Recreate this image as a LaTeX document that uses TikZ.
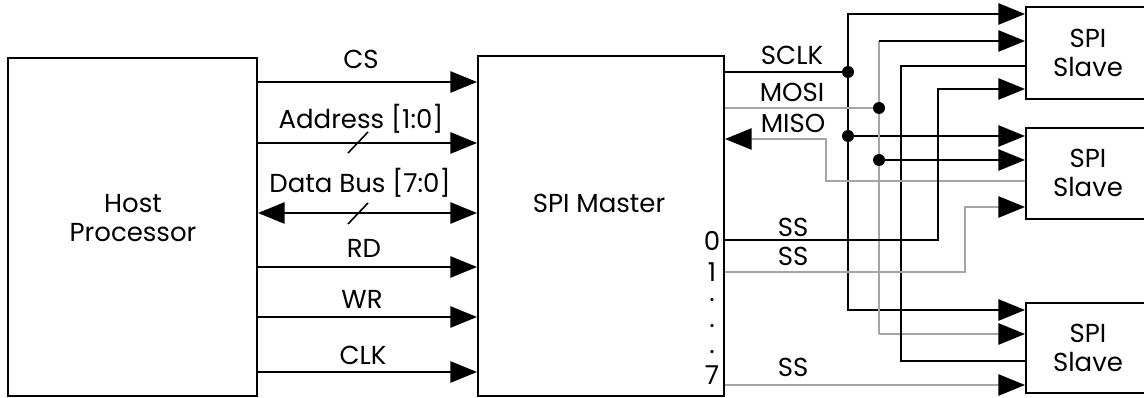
\documentclass[tikz,border=0pt]{standalone}
\usepackage{fontspec}
\setmainfont{Poppins}
\usetikzlibrary{arrows.meta,fit}
\definecolor{wiregray}{RGB}{165,165,165}
\tikzset{
  blk/.style={draw=black, line width=1.5pt, inner sep=0pt},
  wire/.style={draw=black, line width=1.2pt},
  gwire/.style={draw=wiregray, line width=1.2pt},
  arr/.style={-{Triangle[length=20pt,width=16pt,color=black]}},
  arrs/.style={{Triangle[length=20pt,width=16pt,color=black]}-{Triangle[length=20pt,width=16pt,color=black]}},
  jdot/.style={circle, fill=black, inner sep=0pt, minimum size=9pt},
  lbl/.style={font=\fontsize{19.5}{22}\selectfont, inner sep=0.75pt, text=black},
  port/.style={lbl, inner sep=0pt},
}
\begin{document}
\begin{tikzpicture}[x=0.75pt,y=0.75pt,yscale=-1,xscale=1]
    \useasboundingbox (0,0) rectangle (1144,398);

    %Shape: Rectangle [host] 
    \node [blk, fit={(8,58) (257,396)}] (host) {};
    %Shape: Rectangle [master] 
    \node [blk, fit={(478,56) (724,396)}] (master) {};
    %Shape: Rectangle [slaves] 
    \node [blk, fit={(1026,7) (1150,99)}] (s1) {};
    \node [blk, fit={(1026,128) (1150,219)}] (s2) {};
    \node [blk, fit={(1026,303) (1150,393)}] (s3) {};

    % Text Node
    \node [lbl, align=center] (thost) at (133,218) {Host\\Processor};
    % Text Node
    \node [lbl] (tmaster) at (599,203) {SPI Master};
    % Text Node
    \node [lbl, align=center] (ts1) at (1088,53) {SPI\\Slave};
    \node [lbl, align=center] (ts2) at (1088,173) {SPI\\Slave};
    \node [lbl, align=center] (ts3) at (1088,348) {SPI\\Slave};

    %Straight Lines [host to master] 
    \draw [wire,arr] (host.east |- 0,82) -- (master.west |- 0,82) ;
    \draw [wire,arr] (host.east |- 0,143) -- (master.west |- 0,143) ;
    \draw [wire,arrs] (host.east |- 0,213) -- (master.west |- 0,213) ;
    \draw [wire,arr] (host.east |- 0,267) -- (master.west |- 0,267) ;
    \draw [wire,arr] (host.east |- 0,317) -- (master.west |- 0,317) ;
    \draw [wire,arr] (host.east |- 0,372) -- (master.west |- 0,372) ;
    %Straight Lines [bus slashes] 
    \draw [wire] (348,153) -- (368,132) ;
    \draw [wire] (348,224) -- (368,203) ;

    % Text Node
    \node [lbl] (tcs) at (361,59) {CS};
    \node [lbl] (taddr) at (361,119) {Address [1:0]};
    \node [lbl] (tdata) at (360,183) {Data Bus [7:0]};
    \node [lbl] (trd) at (364,248) {RD};
    \node [lbl] (twr) at (362,299) {WR};
    \node [lbl] (tclk) at (363,355) {CLK};

    %Straight Lines [SCLK] 
    \draw [wire] (master.east |- 0,72) -- (848,72) ;
    \draw [wire,arr] (848,72) |- (s1.west |- 0,14) ;
    \draw [wire,arr] (848,72) |- (s3.west |- 0,310) ;
    \draw [wire,arr] (848,136) -- (s2.west |- 0,136) ;
    %Straight Lines [MOSI] 
    \draw [gwire] (master.east |- 0,108) -- (879,108) ;
    \draw [gwire] (879,41) -- (879,334) ;
    \draw [wire,arr] (879,41) -- (s1.west |- 0,41) ;
    \draw [wire,arr] (879,160) -- (s2.west |- 0,160) ;
    \draw [gwire,arr] (879,334) -- (s3.west |- 0,334) ;
    %Straight Lines [MISO] 
    \draw [wire] (s1.west |- 0,66) -| (901,361) -- (s3.west |- 0,361) ;
    \draw [gwire,arr] (s2.west |- 0,181) -- (826,181) -- (826,139) -- (master.east |- 0,139) ;
    %Straight Lines [SS] 
    \draw [wire,arr] (master.east |- 0,240) -- (938,240) -- (938,89) -- (s1.west |- 0,89) ;
    \draw [gwire,arr] (master.east |- 0,272) -- (965,272) -- (965,207) -- (s2.west |- 0,207) ;
    \draw [gwire,arr] (master.east |- 0,385) -- (s3.west |- 0,385) ;

    %Shape: Circle [junctions] 
    \node [jdot] (j1) at (848,72) {};
    \node [jdot] (j2) at (848,136) {};
    \node [jdot] (j3) at (879,108) {};
    \node [jdot] (j4) at (879,160) {};

    % Text Node
    \node [lbl] (tsclk) at (792,55) {SCLK};
    \node [lbl] (tmosi) at (792,92) {MOSI};
    \node [lbl] (tmiso) at (793,123) {MISO};
    \node [lbl] (tss0) at (793,227) {SS};
    \node [lbl] (tss1) at (793,256) {SS};
    \node [lbl] (tss7) at (793,367) {SS};
    % Text Node
    \node [port] (p0) at (712,241) {0};
    \node [port] (p1) at (712,272) {1};
    \node [port] (pd1) at (712,300) {.};
    \node [port] (pd2) at (712,326) {.};
    \node [port] (pd3) at (712,352) {.};
    \node [port] (p7) at (712,375) {7};

\end{tikzpicture}
\end{document}
